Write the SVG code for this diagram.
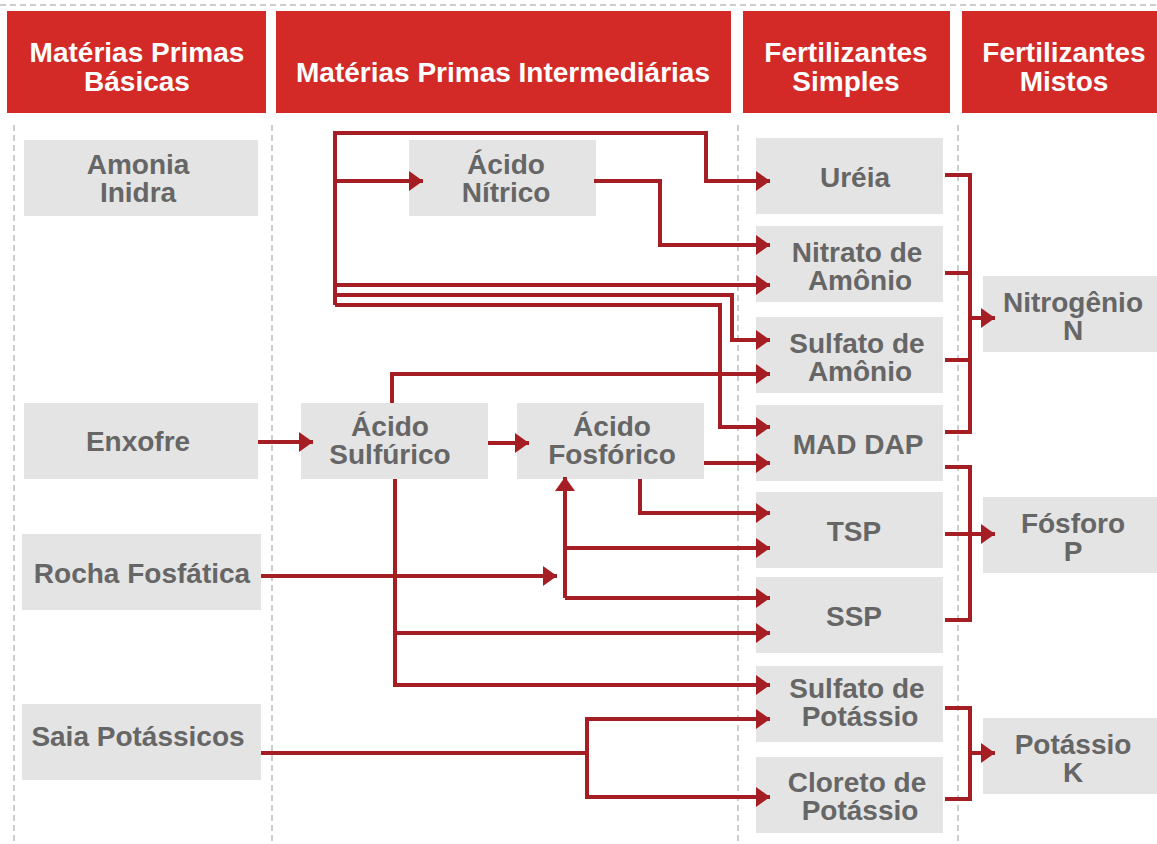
<svg xmlns="http://www.w3.org/2000/svg" width="1157" height="844" viewBox="0 0 1157 844">
<defs>
<style>
.hdr{fill:#d32a28}
.ht{fill:#fff;font-family:"Liberation Sans",Arial,sans-serif;font-weight:bold;font-size:28px;text-anchor:middle}
.box{fill:#e4e4e4}
.t{fill:#666;font-family:"Liberation Sans",Arial,sans-serif;font-weight:bold;font-size:28px;text-anchor:middle}
.dash{stroke:#bdbdbd;stroke-width:1.5;stroke-dasharray:6 4;fill:none}
.c{stroke:#a51e23;stroke-width:4;fill:none}
.a{marker-end:url(#arr)}
</style>
<marker id="arr" markerUnits="userSpaceOnUse" markerWidth="14" markerHeight="20" refX="14" refY="10" orient="auto">
<path d="M0,0 L14,10 L0,20 Z" fill="#a51e23"/>
</marker>
</defs>
<rect width="1157" height="844" fill="#fff"/>
<g id="guides">
<line class="dash" x1="0" y1="5" x2="1157" y2="5"/>
<line class="dash" x1="14" y1="125" x2="14" y2="844"/>
<line class="dash" x1="272" y1="125" x2="272" y2="844"/>
<line class="dash" x1="738" y1="125" x2="738" y2="844"/>
<line class="dash" x1="958" y1="125" x2="958" y2="844"/>
</g>
<g id="header-1"><rect class="hdr" x="7" y="11" width="259" height="102"/><text class="ht" x="137" y="62">Matérias Primas</text><text class="ht" x="137" y="91">Básicas</text></g>
<g id="header-2"><rect class="hdr" x="276" y="11" width="455" height="102"/><text class="ht" x="503" y="82">Matérias Primas Intermediárias</text></g>
<g id="header-3"><rect class="hdr" x="743" y="11" width="207" height="102"/><text class="ht" x="846" y="62">Fertilizantes</text><text class="ht" x="846" y="91">Simples</text></g>
<g id="header-4"><rect class="hdr" x="962" y="11" width="195" height="102"/><text class="ht" x="1064" y="62">Fertilizantes</text><text class="ht" x="1064" y="91">Mistos</text></g>

<g id="amonia"><rect class="box" x="24" y="140" width="234" height="76"/><text class="t" x="138" y="174">Amonia</text><text class="t" x="138" y="202">Inidra</text></g>
<g id="enxofre"><rect class="box" x="24" y="403" width="234" height="76"/><text class="t" x="138" y="451">Enxofre</text></g>
<g id="rocha"><rect class="box" x="22" y="534" width="239" height="76"/><text class="t" x="142" y="583">Rocha Fosfática</text></g>
<g id="saia"><rect class="box" x="22" y="704" width="239" height="76"/><text class="t" x="138" y="746">Saia Potássicos</text></g>

<g id="nitrico"><rect class="box" x="409" y="140" width="187" height="76"/><text class="t" x="506" y="174">Ácido</text><text class="t" x="506" y="202">Nítrico</text></g>
<g id="sulfurico"><rect class="box" x="301" y="403" width="187" height="76"/><text class="t" x="390" y="436">Ácido</text><text class="t" x="390" y="464">Sulfúrico</text></g>
<g id="fosforico"><rect class="box" x="517" y="403" width="187" height="76"/><text class="t" x="612" y="436">Ácido</text><text class="t" x="612" y="464">Fosfórico</text></g>

<g id="ureia"><rect class="box" x="756" y="138" width="187" height="76"/><text class="t" x="855" y="187">Uréia</text></g>
<g id="nitrato"><rect class="box" x="756" y="226" width="187" height="76"/><text class="t" x="857" y="262">Nitrato de</text><text class="t" x="860" y="290">Amônio</text></g>
<g id="sulfato-amonio"><rect class="box" x="756" y="317" width="187" height="76"/><text class="t" x="857" y="353">Sulfato de</text><text class="t" x="860" y="381">Amônio</text></g>
<g id="mad-dap"><rect class="box" x="756" y="405" width="187" height="76"/><text class="t" x="858" y="454">MAD DAP</text></g>
<g id="tsp"><rect class="box" x="756" y="492" width="187" height="76"/><text class="t" x="854" y="541">TSP</text></g>
<g id="ssp"><rect class="box" x="756" y="577" width="187" height="76"/><text class="t" x="854" y="626">SSP</text></g>
<g id="sulfato-potassio"><rect class="box" x="756" y="666" width="187" height="76"/><text class="t" x="857" y="698">Sulfato de</text><text class="t" x="860" y="726">Potássio</text></g>
<g id="cloreto"><rect class="box" x="756" y="757" width="187" height="76"/><text class="t" x="857" y="792">Cloreto de</text><text class="t" x="860" y="820">Potássio</text></g>

<g id="nitrogenio"><rect class="box" x="983" y="276" width="174" height="76"/><text class="t" x="1073" y="312">Nitrogênio</text><text class="t" x="1073" y="340">N</text></g>
<g id="fosforo"><rect class="box" x="983" y="497" width="174" height="76"/><text class="t" x="1073" y="533">Fósforo</text><text class="t" x="1073" y="561">P</text></g>
<g id="potassio"><rect class="box" x="983" y="718" width="174" height="76"/><text class="t" x="1073" y="754">Potássio</text><text class="t" x="1073" y="782">K</text></g>

<g id="connectors">
<path class="c a" d="M335,305 V133 H706 V181 H770"/>
<path class="c a" d="M335,181 H423"/>
<path class="c a" d="M335,285 H770"/>
<path class="c a" d="M335,295 H732 V340 H770"/>
<path class="c a" d="M335,305 H720 V427 H770"/>
<path class="c a" d="M594,181 H660 V245 H770"/>
<path class="c a" d="M392,403 V374 H770"/>
<path class="c a" d="M258,442 H313"/>
<path class="c a" d="M488,443 H529"/>
<path class="c a" d="M704,463 H770"/>
<path class="c a" d="M640,479 V513 H770"/>
<path class="c a" d="M395,479 V685 H770"/>
<path class="c a" d="M395,633 H770"/>
<path class="c a" d="M261,576 H557"/>
<path class="c a" d="M565,598 V477"/>
<path class="c a" d="M565,548 H770"/>
<path class="c a" d="M565,598 H770"/>
<path class="c" d="M261,753 H587"/>
<path class="c a" d="M587,753 V719 H770"/>
<path class="c a" d="M587,753 V797 H770"/>
<path class="c" d="M945,175 H970 V432 H945 M945,273 H970 M945,360 H970"/>
<path class="c a" d="M970,318 H995"/>
<path class="c" d="M945,467 H970 V620 H945"/>
<path class="c a" d="M945,534 H995"/>
<path class="c" d="M945,708 H970 V799 H945"/>
<path class="c a" d="M970,753 H995"/>
</g>
</svg>
